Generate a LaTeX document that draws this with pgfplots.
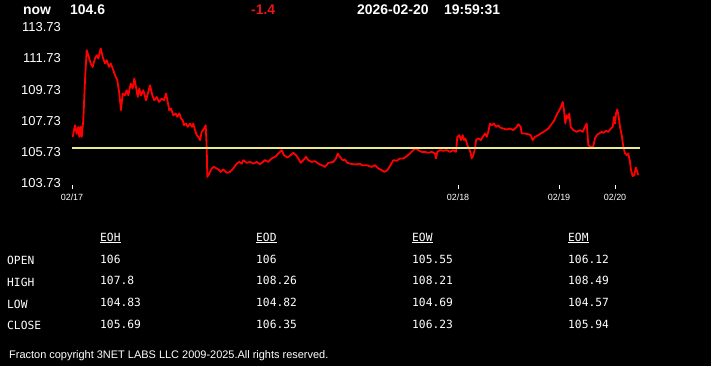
\documentclass[border=0pt]{standalone}
\usepackage{pgfplots}
\pgfplotsset{compat=1.18}
\usepackage{fontspec}
\setmainfont{Liberation Sans}
\newfontfamily\monofont{DejaVu Sans Mono}
\definecolor{lred}{RGB}{255,0,0}
\definecolor{hred}{RGB}{235,20,20}
\definecolor{lyel}{RGB}{232,234,140}
\begin{document}
\begin{tikzpicture}[x=1bp,y=1bp]
\fill[black] (0,0) rectangle (711,366);
\useasboundingbox (0,0) rectangle (711,366);
\begin{axis}[at={(72bp,181bp)}, anchor=south west, scale only axis,
  width=568bp, height=158bp,
  xmin=72, xmax=640, ymin=103.634, ymax=113.73,
  axis line style={draw=none},
  xtick={72,458,559,615}, xticklabels={02/17,02/18,02/19,02/20},
  ytick={103.73,105.73,107.73,109.73,111.73,113.73},
  yticklabels={103.73,105.73,107.73,109.73,111.73,113.73},
  xtick pos=bottom, ytick pos=left, tick align=outside,
  major tick length=4bp,
  xtick style={white, line width=1bp},
  ytick style={draw=none},
  x tick label style={text=white, font=\fontsize{9}{9}\selectfont, yshift=-1.5bp},
  y tick label style={text=white, font=\fontsize{13}{13}\selectfont, anchor=east, inner sep=0pt, xshift=-7bp},
  clip=false]
\addplot[lred, line width=1.8bp, line join=round] coordinates {
(72.7,106.71) (75,107.45) (76.7,106.9) (78.3,107.35) (79.3,106.71) (80.7,107.35) (81.7,106.71) (83.3,107.77)
(85,110.33) (86.7,112.25) (88.3,111.93) (90.7,111.4) (92.7,111.18) (95,111.72) (96.7,111.93) (98.3,111.72)
(100.7,112.36) (102.7,111.82) (105,111.4) (106.7,111.61) (109,111.18) (110.7,111.4) (112.7,111.08) (115,110.65)
(117.3,110.33) (119.3,109.48) (121,108.41) (122.7,109.48) (125,109.37) (126.7,109.69) (128.3,109.37) (130.7,110.12)
(132.7,109.8) (134.3,110.44) (136,109.9) (137.7,109.26) (139.3,109.8) (141,109.37) (143.3,109.69) (146,109.05)
(148.3,109.58) (150,110.01) (152.3,109.37) (154.3,109.05) (156.7,109.26) (159,108.94) (161.7,109.16) (164,109.05)
(166,109.48) (167.7,108.94) (169.3,108.41) (171,108.52) (173.3,108.09) (175.7,108.2) (177.3,107.99) (179.3,108.21)
(181,107.88) (182.7,107.77) (184,107.45) (186,107.56) (187.7,107.35) (190,107.56) (192,107.35) (193.3,107.56)
(195,107.14) (196.7,106.82) (198.3,106.71) (200,106.5) (201.7,107.03) (204,107.24) (205.7,107.45) (206.7,106.0)
(207.3,104.15) (209.3,104.37) (211.7,104.69) (214,104.79) (216.7,104.69) (219.3,104.58) (220.7,104.47) (223.3,104.63)
(226.7,104.41) (230,104.47) (233.3,104.69) (236.7,105.0) (239.3,105.11) (241.7,105.0) (243.3,105.22) (246.7,105.05)
(250,105.11) (253.3,105.0) (256.7,105.11) (260,104.96) (265,105.22) (268.3,105.11) (271.7,105.33) (276,105.47)
(278.3,105.65) (281.7,105.86) (284,105.54) (287.3,105.39) (290.7,105.54) (293.3,105.69) (296,105.54) (298.3,105.33)
(300.7,105.05) (303.3,105.22) (306,105.43) (308.3,105.22) (311.7,105.11) (315,105.16) (318.3,105.0) (321.7,104.9)
(325,104.79) (328.3,105.05) (333.3,105.11) (336,105.33) (337.7,105.65) (340,105.43) (342.7,105.22) (345,105.26)
(347.3,105.05) (350,105.0) (353.3,104.96) (356.7,104.95) (360,105.0) (361.7,104.9) (366.7,104.9) (371.7,104.79)
(375,104.9) (378.3,104.69) (381.7,104.58) (384.3,104.47) (387.3,104.58) (390,104.84) (393.3,105.22) (396.7,105.18)
(400,105.33) (403.3,105.33) (406.7,105.47) (410,105.65) (413.3,105.86) (415.7,105.97) (418.3,105.86) (421.7,105.75)
(425,105.75) (428.3,105.69) (431.7,105.75) (435,105.65) (436,105.33) (437.3,105.75) (440,105.86) (443.3,105.82)
(446.7,105.86) (450,105.75) (453.3,105.86) (456,105.75) (457.3,106.71) (459.3,106.82) (461,106.5) (462.7,106.82)
(464,106.5) (465.3,106.61) (467.3,106.18) (469,105.97) (470.7,105.65) (471.7,105.33) (473.3,105.54) (475,105.97)
(476,106.5) (478.3,106.61) (480.7,106.5) (482.7,106.71) (485,106.92) (486.7,106.71) (488.3,107.03) (490,107.56)
(491.7,107.45) (494,107.56) (496,107.35) (498.3,107.45) (500,107.31) (503.3,107.24) (506.7,107.18) (510,107.24)
(513.3,107.14) (516.7,107.35) (518.3,107.52) (520.7,107.35) (521.7,106.92) (525,106.92) (528.3,106.88) (530.7,106.82)
(532.7,106.5) (535,106.71) (538.3,106.82) (541.7,106.96) (545,107.09) (548.3,107.24) (550.7,107.45) (553.3,107.67)
(555,107.88) (557.3,108.2) (559.3,108.41) (561,108.62) (562.7,108.94) (564,108.41) (565.3,107.56) (566.7,108.09)
(568.3,107.88) (569.3,108.2) (570.7,107.35) (573.3,107.14) (576.7,107.03) (580,107.14) (582.7,107.03) (585,107.35)
(586.7,107.56) (588.3,106.18) (590.7,106.07) (593.3,106.11) (595,106.61) (596.7,106.82) (599,106.92) (601.7,107.03)
(603.3,106.96) (606,107.09) (608.3,107.03) (610.7,107.24) (612.7,107.35) (614,107.99) (615,107.56) (616,108.2)
(617.3,108.46) (618.7,107.99) (620,107.35) (621.7,106.82) (623.3,106.07) (625,105.65) (626.7,105.54) (628.3,105.65)
(630,105.11) (631,104.58) (632.7,104.2) (634.3,104.26) (635.7,104.75) (637.3,104.47) (638.3,104.26)
};
\addplot[lyel, line width=1.8bp] coordinates {(72,106) (640,106)};
\end{axis}
% header
\begin{scope}[every node/.style={anchor=base west, inner sep=0pt, font=\bfseries\fontsize{14}{14}\selectfont, text=white}]
\node at (23,352) {now};
\node at (70,352) {104.6};
\node[text=hred] at (251,352) {-1.4};
\node at (357,352) {2026-02-20};
\node at (444,352) {19:59:31};
\end{scope}
% table
\begin{scope}[every node/.style={anchor=base west, inner sep=0pt, font=\monofont\fontsize{11.3}{11.3}\selectfont, text=white}]
\node at (100,125) {\underline{EOH}};
\node at (256,125) {\underline{EOD}};
\node at (412,125) {\underline{EOW}};
\node at (568,125) {\underline{EOM}};
\node at (7,101.3) {OPEN};
\node at (7,79.6) {HIGH};
\node at (7,57.9) {LOW};
\node at (7,36.2) {CLOSE};
\node at (100,102.8) {106};
\node at (256,102.8) {106};
\node at (412,102.8) {105.55};
\node at (568,102.8) {106.12};
\node at (100,81.1) {107.8};
\node at (256,81.1) {108.26};
\node at (412,81.1) {108.21};
\node at (568,81.1) {108.49};
\node at (100,59.4) {104.83};
\node at (256,59.4) {104.82};
\node at (412,59.4) {104.69};
\node at (568,59.4) {104.57};
\node at (100,37.7) {105.69};
\node at (256,37.7) {106.35};
\node at (412,37.7) {106.23};
\node at (568,37.7) {105.94};
\end{scope}
\node[anchor=base west, inner sep=0pt, font=\fontsize{11}{11}\selectfont, text=white] at (9,7.5) {Fracton copyright 3NET LABS LLC 2009-2025.All rights reserved.};
\end{tikzpicture}
\end{document}
